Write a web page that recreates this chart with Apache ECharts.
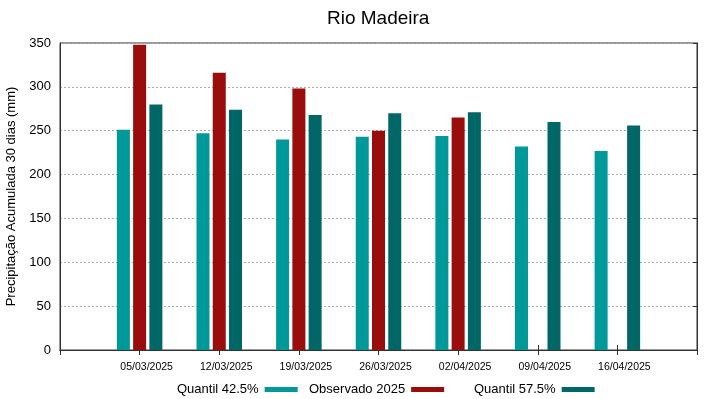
<!DOCTYPE html>
<html>
<head>
<meta charset="utf-8">
<script src="https://cdn.jsdelivr.net/npm/echarts@6/dist/echarts.min.js"></script>
<style>
  html, body { margin: 0; padding: 0; background: #fff; }
  #chart { width: 719px; height: 399px; }
</style>
</head>
<body>
<div id="chart"></div>
<script>
// datas (semanas) e valores
var datas       = ["05/03/2025", "12/03/2025", "19/03/2025", "26/03/2025", "02/04/2025", "09/04/2025", "16/04/2025"];
var quantil425  = [251, 247, 240, 243, 244, 232, 227];
var observado   = [348, 316, 298, 250, 265, null, null];
var quantil575  = [280, 274, 268, 270, 271, 260, 256];
var yTicks      = [0, 50, 100, 150, 200, 250, 300, 350];

var FONT = "Liberation Sans, Arial, sans-serif";
var COR_Q425 = "#009999";
var COR_OBS  = "#990d0d";
var COR_Q575 = "#006666";

// eixo com uma posição vazia em cada ponta (ticks caem no meio do eixo)
function pad(arr) { return [null].concat(arr, [null]); }
var eixoX = [""].concat(datas, [""]);

var chart = echarts.init(document.getElementById("chart"));

function legenda(nome, x) {
  return {
    data: [nome], left: x, top: 378, align: "right",
    itemWidth: 33, itemHeight: 5, itemGap: 0, icon: "rect",
    selectedMode: false,
    textStyle: { fontFamily: FONT, fontSize: 13, color: "#000", padding: [0, 1, 0, 0] }
  };
}

chart.setOption({
  animation: false,
  title: {
    text: "Rio Madeira", left: 322, top: 4,
    textStyle: { fontFamily: FONT, fontSize: 19, fontWeight: "normal", color: "#000" }
  },
  legend: [
    legenda("Quantil 42.5%", 172),
    legenda("Observado 2025", 304),
    legenda("Quantil 57.5%", 469)
  ],
  grid: { left: 60, right: 22, top: 43, bottom: 49, show: true, borderColor: "#333", borderWidth: 1,
          outerBoundsMode: "none" },
  xAxis: [{
    type: "category", data: eixoX, boundaryGap: false,
    axisLine: { lineStyle: { color: "#333" } },
    axisTick: { inside: true, length: 5, lineStyle: { color: "#333" } },
    axisLabel: { fontFamily: FONT, fontSize: 10.5, color: "#000", margin: 12, padding: [0, 0, 0, 14] },
    splitLine: { show: false }
  }, {
    type: "category", data: eixoX, boundaryGap: false, position: "top",
    axisLine: { lineStyle: { color: "#333" } },
    axisTick: { inside: true, length: 5, lineStyle: { color: "#333" } },
    axisLabel: { show: false }
  }],
  yAxis: [{
    type: "value", min: 0, max: 350, interval: 50,
    name: "Precipitação Acumulada 30 dias (mm)", nameLocation: "middle", nameGap: 36,
    nameTextStyle: { fontFamily: FONT, fontSize: 13, color: "#000" },
    axisLine: { show: true, lineStyle: { color: "#333" } },
    axisTick: { show: false },
    axisLabel: { fontFamily: FONT, fontSize: 13, color: "#000", margin: 9,
      formatter: function (v) { return yTicks.indexOf(v) >= 0 ? String(v) : ""; } },
    splitLine: { lineStyle: { color: "#aaa", type: [2, 2], width: 1 } }
  }, {
    type: "value", min: 0, max: 350, interval: 50, position: "right",
    axisLine: { show: true, lineStyle: { color: "#333" } },
    axisTick: { show: true, inside: true, length: 4, lineStyle: { color: "#333" } },
    axisLabel: { show: false }, splitLine: { show: false }
  }],
  series: [
    { name: "Quantil 42.5%", type: "bar", data: pad(quantil425), barWidth: 13, barGap: "25%",
      itemStyle: { color: COR_Q425 } },
    { name: "Observado 2025", type: "bar", data: pad(observado), barWidth: 13, barGap: "25%",
      itemStyle: { color: COR_OBS } },
    { name: "Quantil 57.5%", type: "bar", data: pad(quantil575), barWidth: 13, barGap: "25%",
      itemStyle: { color: COR_Q575 } }
  ]
});
</script>
</body>
</html>
